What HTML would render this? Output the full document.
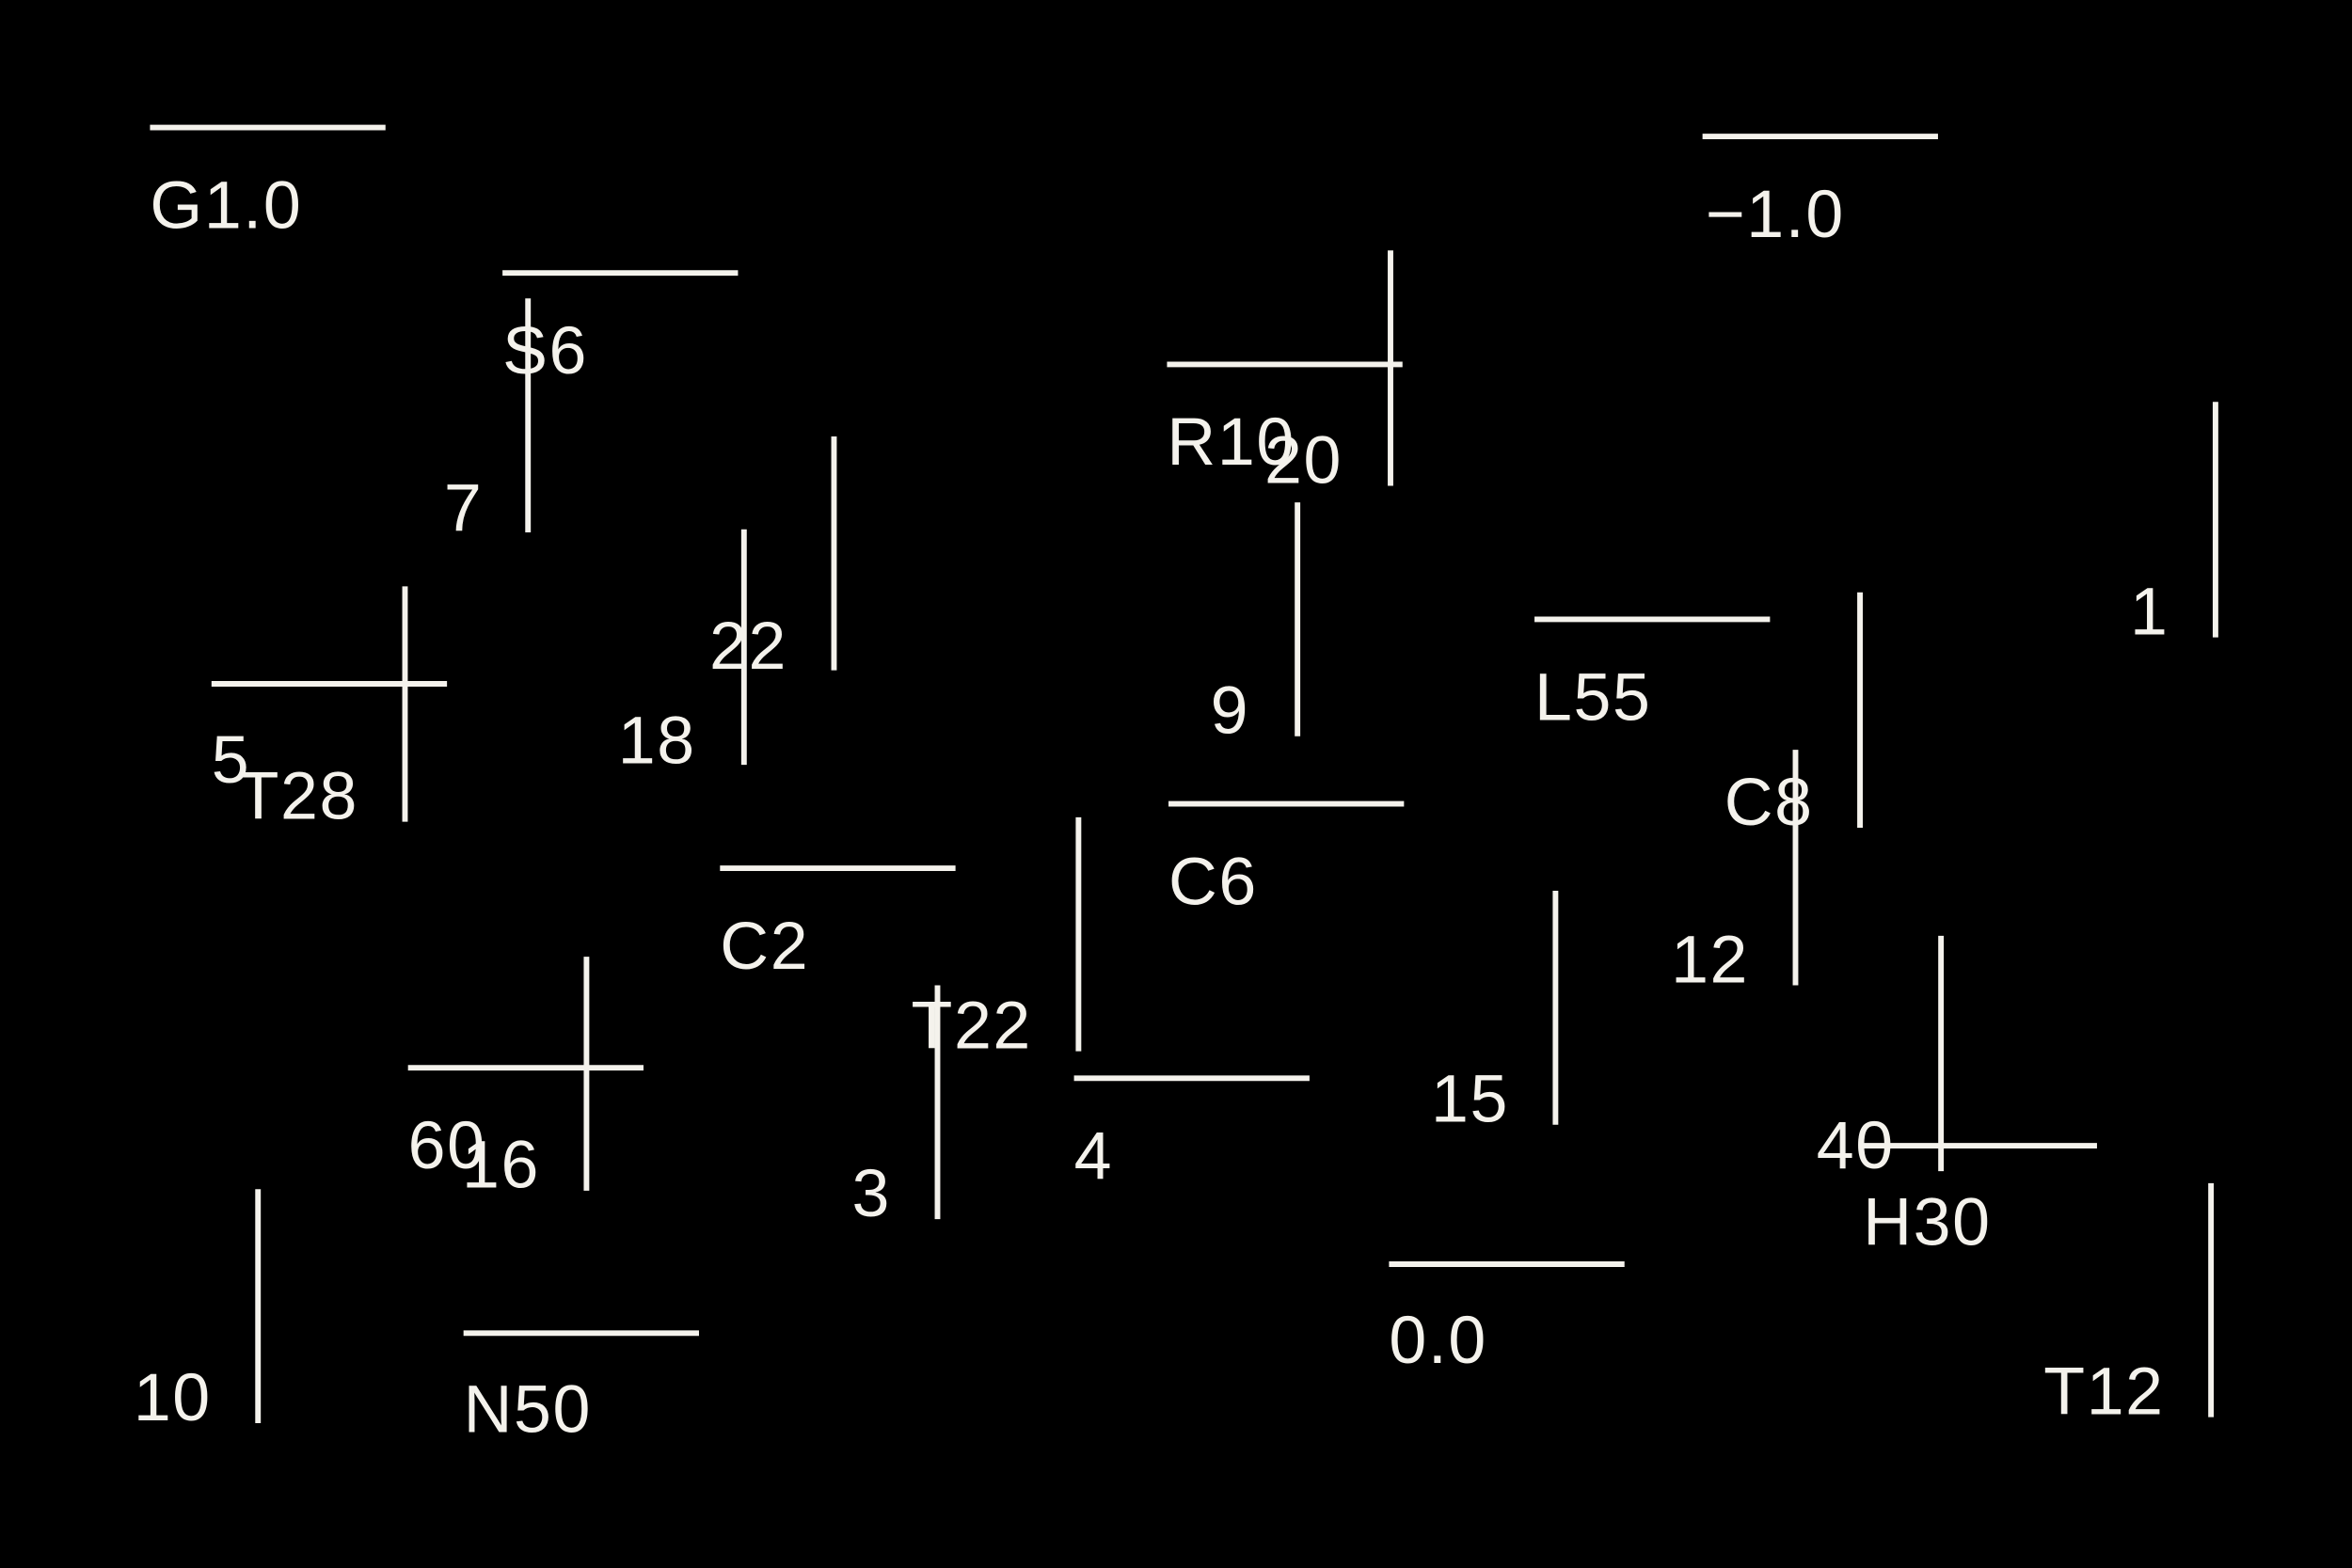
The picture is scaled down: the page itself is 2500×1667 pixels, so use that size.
<!DOCTYPE html>
<html><head><meta charset="utf-8"><style>
html,body{margin:0;padding:0;background:#000;}
svg{display:block;}
text{font-family:"Liberation Sans",sans-serif;font-size:45px;fill:#f4f2ec;letter-spacing:1px;}
line{stroke:#f4f2ec;stroke-width:3.7;}
</style></head><body>
<svg width="2500" height="1667" viewBox="0 0 1568 1045.6" preserveAspectRatio="none" xmlns="http://www.w3.org/2000/svg">
<rect width="1568" height="1046" fill="#000"/>
<!-- horizontal -->
<line x1="100" y1="85" x2="257" y2="85"/><text x="100" y="152">G1.0</text>
<line x1="1135" y1="91" x2="1292" y2="91"/><text x="1137" y="158">−1.0</text>
<line x1="335" y1="182" x2="492" y2="182"/><text x="335" y="249">S6</text>
<line x1="778" y1="243" x2="935" y2="243"/><text x="778" y="310">R10</text>
<line x1="141" y1="456" x2="298" y2="456"/><text x="141" y="522">5</text>
<line x1="1023" y1="413" x2="1180" y2="413"/><text x="1023" y="480">L55</text>
<line x1="779" y1="536" x2="936" y2="536"/><text x="779" y="603">C6</text>
<line x1="480" y1="579" x2="637" y2="579"/><text x="480" y="646">C2</text>
<line x1="272" y1="712" x2="429" y2="712"/><text x="272" y="779">60</text>
<line x1="716" y1="719" x2="873" y2="719"/><text x="716" y="786">4</text>
<line x1="1240" y1="764" x2="1398" y2="764"/><text x="1242" y="830">H30</text>
<line x1="926" y1="843" x2="1083" y2="843"/><text x="926" y="909">0.0</text>
<line x1="309" y1="889" x2="466" y2="889"/><text x="309" y="955">N50</text>
<!-- vertical -->
<line x1="352" y1="199" x2="352" y2="355"/><text x="322" y="354" text-anchor="end">7</text>
<line x1="556" y1="291" x2="556" y2="447"/><text x="525" y="446" text-anchor="end">22</text>
<line x1="496" y1="353" x2="496" y2="510"/><text x="464" y="509" text-anchor="end">18</text>
<line x1="270" y1="391" x2="270" y2="548"/><text x="239" y="546" text-anchor="end">T28</text>
<line x1="927" y1="167" x2="927" y2="324"/><text x="895" y="322" text-anchor="end">20</text>
<line x1="865" y1="335" x2="865" y2="491"/><text x="833" y="489" text-anchor="end">9</text>
<line x1="1477" y1="268" x2="1477" y2="425"/><text x="1446" y="423" text-anchor="end">1</text>
<line x1="1240" y1="395" x2="1240" y2="552"/><text x="1209" y="550" text-anchor="end">C8</text>
<line x1="1197" y1="500" x2="1197" y2="657"/><text x="1166" y="655" text-anchor="end">12</text>
<line x1="719" y1="545" x2="719" y2="701"/><text x="688" y="699" text-anchor="end">T22</text>
<line x1="625" y1="657" x2="625" y2="813"/><text x="594" y="811" text-anchor="end">3</text>
<line x1="1037" y1="594" x2="1037" y2="750"/><text x="1006" y="748" text-anchor="end">15</text>
<line x1="391" y1="638" x2="391" y2="794"/><text x="360" y="792" text-anchor="end">16</text>
<line x1="1294" y1="624" x2="1294" y2="781"/><text x="1263" y="779" text-anchor="end">40</text>
<line x1="172" y1="793" x2="172" y2="949"/><text x="141" y="947" text-anchor="end">10</text>
<line x1="1474" y1="789" x2="1474" y2="945"/><text x="1443" y="943" text-anchor="end">T12</text>
</svg>
</body></html>
